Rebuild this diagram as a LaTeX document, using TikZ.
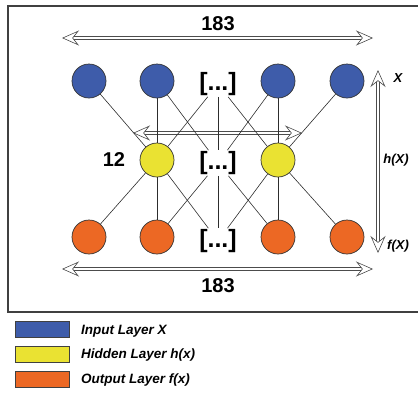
\documentclass[tikz,border=0pt]{standalone}
\usepackage{fontspec}
\setmainfont{Liberation Sans}
\usetikzlibrary{arrows.meta}
\definecolor{inblue}{RGB}{62,92,170}
\definecolor{hidyellow}{RGB}{234,226,50}
\definecolor{outorange}{RGB}{236,104,36}
\definecolor{edgegray}{RGB}{45,45,45}
\tikzset{
  neuron/.style={circle, draw=black!80, line width=0.7pt, minimum size=34pt, inner sep=0pt},
  inp/.style={neuron, fill=inblue},
  hid/.style={neuron, fill=hidyellow},
  outp/.style={neuron, fill=outorange},
  dotsnode/.style={font=\fontsize{25}{25}\selectfont\bfseries, inner sep=1pt},
  link/.style={draw=edgegray, line width=0.6pt},
  shaft/.style={draw=black!70, double=white, double distance=2.6pt, line width=0.6pt, shorten >=10pt, shorten <=10pt},
  heads/.style={draw=white, line width=0.3pt,
    >={Stealth[length=17pt, width=15pt, inset=6pt, fill=white, color=black!70, line width=0.6pt]}, <->},
  dimlabel/.style={font=\fontsize{20}{20}\selectfont\bfseries},
  sidelabel/.style={font=\fontsize{13}{13}\selectfont\bfseries\itshape},
  legtext/.style={font=\fontsize{13.5}{13.5}\selectfont\bfseries\itshape, anchor=west, inner sep=0pt},
  legbox/.style={draw=black!75, line width=0.6pt, minimum width=54pt, minimum height=16pt, inner sep=0pt},
  frameline/.style={draw=black!75, line width=1.3pt}
}
\begin{document}
\begin{tikzpicture}[x=1pt, y=-1pt]
\useasboundingbox (0,0) rectangle (418,392);
% frame
\draw[frameline] (420,6) -- (8,6) -- (8,312) -- (420,312);

% dimension arrows (drawn first, links pass over them)
\coordinate (ta) at (62,38);  \coordinate (tb) at (373,38);
\coordinate (ba) at (62,269); \coordinate (bb) at (373,269);
\coordinate (ma) at (133,133); \coordinate (mb) at (302,133);
\coordinate (va) at (378,70); \coordinate (vb) at (378,253);

\draw[shaft] (ta) -- (tb);
\draw[heads] (ta) -- (tb);
\draw[shaft] (ba) -- (bb);
\draw[heads] (ba) -- (bb);
\draw[shaft] (ma) -- (mb);
\draw[heads] (ma) -- (mb);
\draw[shaft] (va) -- (vb);
\draw[heads] (va) -- (vb);

% neurons
\node[inp] (i1) at (89,81) {};
\node[inp] (i2) at (157,81) {};
\node[dotsnode] (id) at (218,84) {[...]};
\node[inp] (i3) at (278,81) {};
\node[inp] (i4) at (347,81) {};

\node[hid] (h1) at (157,160) {};
\node[dotsnode] (hd) at (218,163) {[...]};
\node[hid] (h2) at (278,160) {};

\node[outp] (o1) at (89,237) {};
\node[outp] (o2) at (157,237) {};
\node[dotsnode] (od) at (218,241) {[...]};
\node[outp] (o3) at (278,237) {};
\node[outp] (o4) at (347,237) {};

% input -> hidden
\draw[link] (i1) -- (h1);
\draw[link] (i2) -- (h1);
\draw[link] (i2) -- (hd);
\draw[link] (id) -- (h1);
\draw[link] (id) -- (hd);
\draw[link] (id) -- (h2);
\draw[link] (i3) -- (hd);
\draw[link] (i3) -- (h2);
\draw[link] (i4) -- (h2);
% hidden -> output
\draw[link] (h1) -- (o1);
\draw[link] (h1) -- (o2);
\draw[link] (h1) -- (od);
\draw[link] (hd) -- (o2);
\draw[link] (hd) -- (od);
\draw[link] (hd) -- (o3);
\draw[link] (h2) -- (od);
\draw[link] (h2) -- (o3);
\draw[link] (h2) -- (o4);

\node[dimlabel] (t183) at (218,24) {183};
\node[dimlabel] (b183) at (218,286) {183};
\node[dimlabel] (n12) at (114,160) {12};

\node[sidelabel] (lx) at (398,78) {X};
\node[sidelabel] (lh) at (396,160) {h(X)};
\node[sidelabel] (lf) at (398,246) {f(X)};

% legend
\node[legbox, fill=inblue] (k1) at (42,329) {};
\node[legbox, fill=hidyellow] (k2) at (42,354.5) {};
\node[legbox, fill=outorange] (k3) at (42,379.5) {};
\node[legtext] (t1) at (81,331) {Input Layer X};
\node[legtext] (t2) at (81,355) {Hidden Layer h(x)};
\node[legtext] (t3) at (81,380) {Output Layer f(x)};
\end{tikzpicture}
\end{document}
